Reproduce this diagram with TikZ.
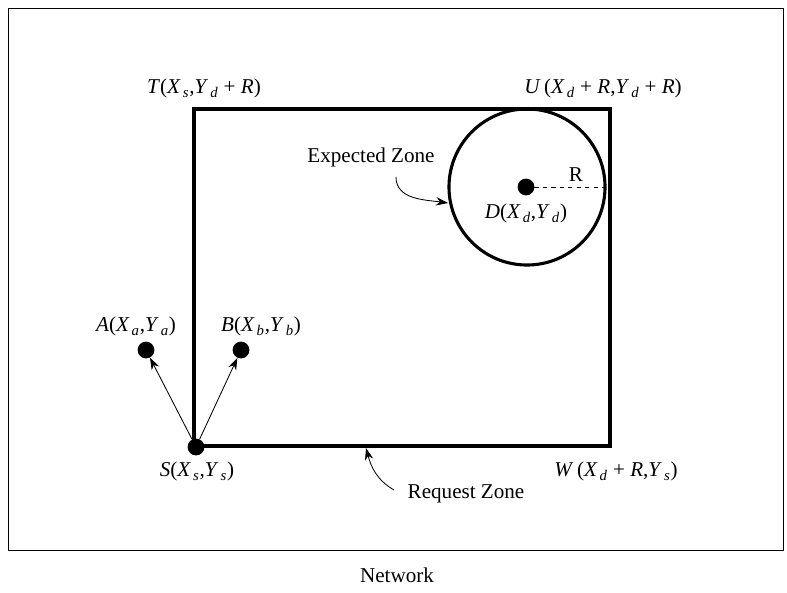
\documentclass[tikz,border=0pt]{standalone}
\usepackage{fontspec}
\setmainfont{Liberation Serif}
\usepackage{tikz}
\usetikzlibrary{arrows.meta, positioning, calc}
\newcommand{\iv}[2]{\textit{#1}\hspace{0.1em}\raisebox{-0.1ex}{\textsubscript{\textit{#2}}}}

\begin{document}
\begin{tikzpicture}[
    x=0.025cm, y=-0.025cm,
    font=\fontsize{15}{17}\selectfont,
    zona/.style={draw, line width=2.2pt},
    titik/.style={circle, fill=black, inner sep=0pt, minimum size=0.42cm},
    lbl/.style={inner sep=1pt},
    panah/.style={-{Stealth[length=3mm, width=2.1mm]}, line width=0.6pt}
  ]
    \useasboundingbox (0,0) rectangle (787,592);
    % network frame
    \draw[line width=0.7pt] (8,8) rectangle (783,550);
    \node[lbl] (net) at (397,575) {Network};
    % request zone
    \coordinate (t) at (194,109);
    \coordinate (w) at (610,446);
    \draw[zona, line join=miter] (t) rectangle (w);
    % expected zone
    \node[draw, circle, line width=2.2pt, minimum size=3.9cm, inner sep=0pt] (ez) at (527,187) {};
    \node[titik] (d) at (526,187) {};
    \draw[dashed, line width=0.7pt] (d.center) -- (ez.east);
    \node[lbl] (r) at (576,175) {R};
    \node[lbl] (dl) at (526,213) {\textit{D}(\iv{X}{d},\iv{Y}{d})};
    % points
    \node[titik] (s) at (196,447) {};
    \node[titik] (a) at (146,350) {};
    \node[titik] (b) at (241,350) {};
    \node[lbl] (al) at (136,326) {\textit{A}(\iv{X}{a},\iv{Y}{a})};
    \node[lbl] (bl) at (261,326) {\textit{B}(\iv{X}{b},\iv{Y}{b})};
    \node[lbl] (sl) at (197,471) {\textit{S}(\iv{X}{s},\iv{Y}{s})};
    \node[lbl] (wl) at (616,471) {\textit{W}\,(\iv{X}{d} + \textit{R},\iv{Y}{s})};
    \node[lbl] (tl) at (204,88) {\textit{T}(\iv{X}{s},\iv{Y}{d} + \textit{R})};
    \node[lbl] (ul) at (603,88) {\textit{U}\,(\iv{X}{d} + \textit{R},\iv{Y}{d} + \textit{R})};
    \draw[panah] (s) -- (a);
    \draw[panah] (s) -- (b);
    % zone labels
    \node[lbl] (ezl) at (371,157) {Expected Zone};
    \coordinate (ezp) at (448,203);
    \draw[panah] (396,177) to[out=-90, in=172] (ezp);
    \node[lbl] (rzl) at (466,494) {Request Zone};
    \coordinate (rzp) at (366,448);
    \draw[panah] (rzl.west) ++(-12,-4) to[out=150, in=-75] (rzp);
  \end{tikzpicture}
\end{document}
